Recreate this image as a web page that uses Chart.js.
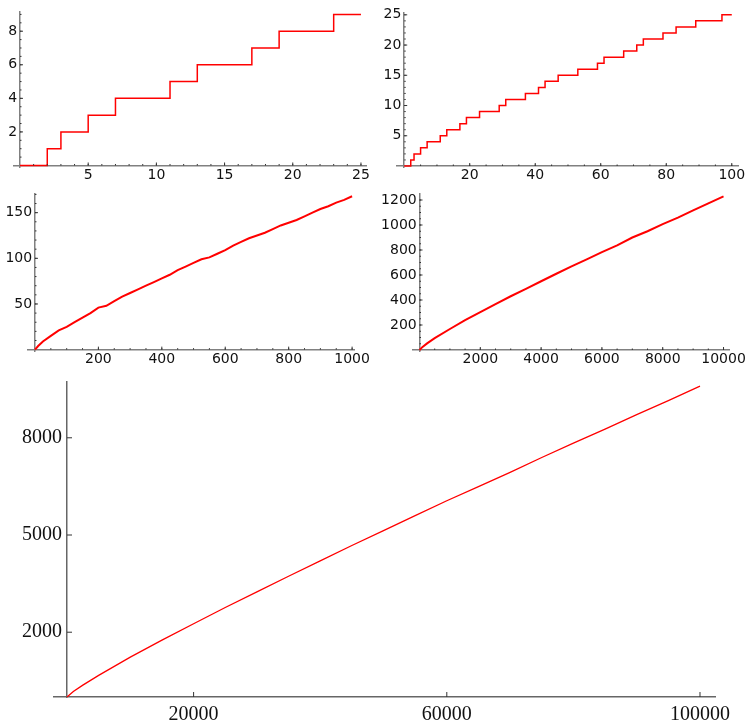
<!DOCTYPE html>
<html>
<head>
<meta charset="utf-8">
<script src="https://cdn.jsdelivr.net/npm/chart.js@4"></script>
<style>
  body { margin: 0; background: #fff; }
  #wrap { position: relative; width: 748px; height: 725px; }
  #wrap canvas { position: absolute; left: 0; top: 0; }
</style>
</head>
<body>
<div id="wrap">
  <canvas id="c1" width="748" height="725"></canvas>
  <canvas id="c2" width="748" height="725"></canvas>
  <canvas id="c3" width="748" height="725"></canvas>
  <canvas id="c4" width="748" height="725"></canvas>
  <canvas id="c5" width="748" height="725"></canvas>
</div>
<script>
// prime counting function pi(x)

// panel 1: x up to 25 (step at each prime)
const x25 = [0, 2, 3, 5, 7, 11, 13, 17, 19, 23, 25];
const pi25 = [0, 1, 2, 3, 4, 5, 6, 7, 8, 9, 9];
const xTicks25 = [5, 10, 15, 20, 25];
const yTicks25 = [2, 4, 6, 8];

// panel 2: x up to 100
const x100 = [0, 2, 3, 5, 7, 11, 13, 17, 19, 23, 29, 31, 37, 41, 43, 47, 53, 59, 61, 67, 71, 73, 79, 83, 89, 97, 100];
const pi100 = [0, 1, 2, 3, 4, 5, 6, 7, 8, 9, 10, 11, 12, 13, 14, 15, 16, 17, 18, 19, 20, 21, 22, 23, 24, 25, 25];
const xTicks100 = [20, 40, 60, 80, 100];
const yTicks100 = [5, 10, 15, 20, 25];

// panel 3: x up to 1000
const x1000 = [0, 10, 25, 50, 75, 100, 125, 150, 175, 200, 225, 250, 275, 300, 325, 350, 375, 400, 425, 450, 475,
  500, 525, 550, 575, 600, 625, 650, 675, 700, 725, 750, 775, 800, 825, 850, 875, 900, 925, 950, 975, 1000];
const pi1000 = [0, 4, 9, 15, 21, 25, 30, 35, 40, 46, 48, 53, 58, 62, 66, 70, 74, 78, 82, 87, 91,
  95, 99, 101, 105, 109, 114, 118, 122, 125, 128, 132, 136, 139, 142, 146, 150, 154, 157, 161, 164, 168];
const xTicks1000 = [200, 400, 600, 800, 1000];
const yTicks1000 = [50, 100, 150];

// panel 4: x up to 10000
const x10k = [0, 100, 250, 500, 1000, 1500, 2000, 2500, 3000, 3500, 4000, 4500, 5000, 5500, 6000, 6500, 7000, 7500, 8000, 8500, 9000, 9500, 10000];
const pi10k = [0, 25, 53, 95, 168, 239, 303, 367, 430, 489, 550, 610, 669, 725, 783, 837, 900, 950, 1007, 1059, 1117, 1173, 1229];
const xTicks10k = [2000, 4000, 6000, 8000, 10000];
const yTicks10k = [200, 400, 600, 800, 1000, 1200];

// panel 5: x up to 100000
const x100k = [0, 1000, 2500, 5000, 10000, 15000, 20000, 25000, 30000, 35000, 40000, 45000, 50000,
  55000, 60000, 65000, 70000, 75000, 80000, 85000, 90000, 95000, 100000];
const pi100k = [0, 168, 367, 669, 1229, 1754, 2262, 2762, 3245, 3727, 4203, 4675, 5133,
  5598, 6057, 6493, 6935, 7393, 7837, 8270, 8713, 9146, 9592];
const xTicks100k = [20000, 60000, 100000];
const yTicks100k = [2000, 5000, 8000];

const W = 748, H = 725;

// short tick marks pointing into the plot, like the original
const tickMarks = {
  id: 'tickMarks',
  afterDraw(chart, args, o) {
    const ctx = chart.ctx;
    const xs = chart.scales.x, ys = chart.scales.y;
    const x0 = xs.getPixelForValue(0), y0 = ys.getPixelForValue(0);
    ctx.save();
    ctx.strokeStyle = o.color;
    ctx.lineWidth = o.width;
    ctx.beginPath();
    const xMark = (v, len) => { const p = xs.getPixelForValue(v); ctx.moveTo(p, y0); ctx.lineTo(p, y0 - len); };
    const yMark = (v, len) => { const p = ys.getPixelForValue(v); ctx.moveTo(x0, p); ctx.lineTo(x0 + len, p); };
    if (o.xMinor) for (let v = o.xMinor; v <= xs.max; v += o.xMinor) xMark(v, o.minor);
    if (o.yMinor) for (let v = o.yMinor; v <= ys.max; v += o.yMinor) yMark(v, o.minor);
    o.xMajor.forEach(v => xMark(v, o.major));
    o.yMajor.forEach(v => yMark(v, o.major));
    ctx.stroke();
    ctx.restore();
  }
};

function makeChart(id, xv, yv, p) {
  const pts = xv.map((x, i) => ({x: x, y: yv[i]}));
  const font = {family: p.family, size: p.size};
  return new Chart(document.getElementById(id), {
    type: 'line',
    data: {
      datasets: [{
        data: pts,
        borderColor: '#ff0000',
        borderWidth: p.lw,
        pointRadius: 0,
        tension: 0,
        stepped: p.stepped ? 'before' : false,
        fill: false
      }]
    },
    options: {
      responsive: false,
      animation: false,
      events: [],
      layout: {padding: {left: p.area[0], right: W - p.area[1], top: p.area[2], bottom: H - p.area[3]}},
      plugins: {
        legend: {display: false},
        tooltip: {enabled: false},
        tickMarks: {xMajor: p.xTicks, yMajor: p.yTicks, xMinor: p.xMinor, yMinor: p.yMinor,
          major: p.major, minor: p.minor, color: p.tickColor, width: 1}
      },
      scales: {
        x: {
          type: 'linear', min: p.xr[0], max: p.xr[1],
          position: {y: 0},
          afterBuildTicks: s => { s.ticks = p.xTicks.map(v => ({value: v})); },
          grid: {display: false, drawTicks: false},
          border: {display: true, color: p.axisColor, width: p.axisWidth},
          ticks: {callback: v => String(v), font: font, color: '#111', padding: p.xPad, maxRotation: 0, autoSkip: false}
        },
        y: {
          type: 'linear', min: p.yr[0], max: p.yr[1],
          position: {x: 0},
          afterBuildTicks: s => { s.ticks = p.yTicks.map(v => ({value: v})); },
          grid: {display: false, drawTicks: false},
          border: {display: true, color: p.axisColor, width: p.axisWidth},
          // labels of an axis placed at x = 0 sit flush on it; a narrow space keeps the gap
          ticks: {callback: v => String(v) + p.gap, font: font, color: '#111', autoSkip: false}
        }
      }
    },
    plugins: [tickMarks]
  });
}

const sans = {family: 'DejaVu Sans', size: 14, lw: 1.5, axisColor: '#808080', axisWidth: 1.5,
  tickColor: '#333', major: 3, minor: 1.5, xPad: 1, gap: '\u2009'};

makeChart('c1', x25, pi25, Object.assign({}, sans, {
  stepped: true, area: [14, 366, 9, 167], xr: [-0.44, 25.37], yr: [-0.09, 9.18],
  xTicks: xTicks25, yTicks: yTicks25, xMinor: 1, yMinor: 0.5}));

makeChart('c2', x100, pi100, Object.assign({}, sans, {
  stepped: true, area: [397, 738, 13, 167.5], xr: [-2.2, 101.9], yr: [-0.25, 25.3],
  xTicks: xTicks100, yTicks: yTicks100, xMinor: 5, yMinor: 1}));

makeChart('c3', x1000, pi1000, Object.assign({}, sans, {
  lw: 2, area: [28, 354, 193.3, 351], xr: [-22, 1006], yr: [-1.5, 171.2],
  xTicks: xTicks1000, yTicks: yTicks1000, xMinor: 50, yMinor: 10}));

makeChart('c4', x10k, pi10k, Object.assign({}, sans, {
  lw: 2, area: [413, 729, 194, 351], xr: [-214, 10180], yr: [-8, 1248],
  xTicks: xTicks10k, yTicks: yTicks10k, xMinor: 500, yMinor: 50}));

makeChart('c5', x100k, pi100k, {
  family: 'Liberation Serif', size: 20, lw: 1.3, axisColor: '#666', axisWidth: 1.5,
  tickColor: '#333', major: 5, minor: 0, xPad: 6, gap: '\u2005',
  area: [54, 715, 382, 697.5], xr: [-2054, 102370], yr: [-15, 9722],
  xTicks: xTicks100k, yTicks: yTicks100k, xMinor: 0, yMinor: 0});
</script>
</body>
</html>
